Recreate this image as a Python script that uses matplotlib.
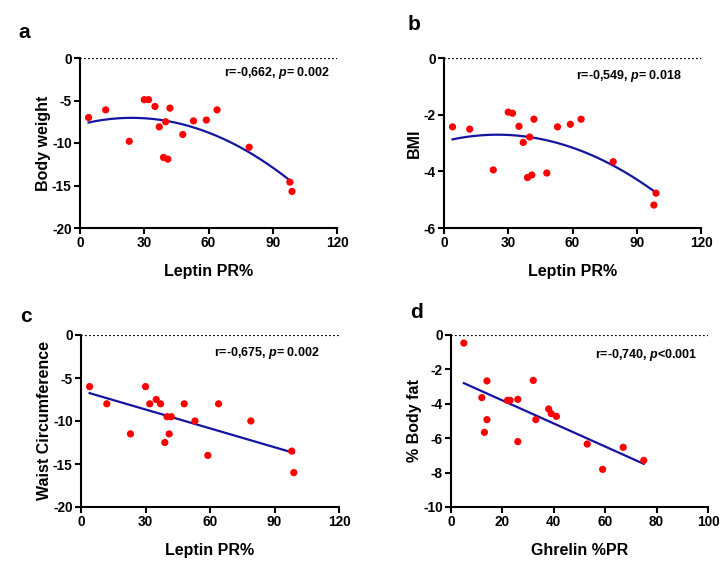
import matplotlib
matplotlib.use("Agg")
import matplotlib.pyplot as plt
import numpy as np

plt.rcParams['font.family'] = ['Liberation Sans', 'DejaVu Sans']
plt.rcParams['font.weight'] = 'bold'
plt.rcParams['axes.unicode_minus'] = False
plt.rcParams['mathtext.fontset'] = 'custom'
plt.rcParams['mathtext.rm'] = 'Liberation Sans:bold'
plt.rcParams['mathtext.it'] = 'Liberation Sans:italic:bold'

# leptin PR% (shared by panels a, b, c)
leptin_pr = [4, 12, 23, 30, 32, 35, 37, 40, 39, 41, 42, 48, 53, 59, 64, 79, 98, 99]
body_weight = [-7.0, -6.1, -9.8, -4.9, -4.9, -5.7, -8.1, -7.5, -11.7, -11.9,
               -5.9, -9.0, -7.4, -7.3, -6.1, -10.5, -14.6, -15.7]
bmi = [-2.43, -2.51, -3.95, -1.91, -1.95, -2.41, -2.98, -2.79, -4.22, -4.13,
       -2.16, -4.06, -2.43, -2.34, -2.16, -3.66, -5.19, -4.77]

leptin_pr_c = [4, 12, 23, 30, 32, 35, 37, 39, 40, 41, 42, 48, 53, 59, 64, 79, 98, 99]
waist = [-6.0, -8.0, -11.5, -6.0, -8.0, -7.5, -8.0, -12.5, -9.5, -11.5,
         -9.5, -8.0, -10.0, -14.0, -8.0, -10.0, -13.5, -16.0]

ghrelin_pr = [5, 12, 14, 13, 14, 22, 23, 26, 26, 32, 33, 38, 39, 41, 53, 59, 67, 75]
body_fat = [-0.47, -3.64, -2.67, -5.66, -4.92, -3.80, -3.80, -3.74, -6.20, -2.64,
            -4.92, -4.30, -4.57, -4.73, -6.34, -7.81, -6.53, -7.29]

W, H = 727, 573
fig = plt.figure(figsize=(W / 100, H / 100), dpi=100)


def make_ax(left, top, right, bottom):
    return fig.add_axes([left / W, 1 - bottom / H, (right - left) / W, (bottom - top) / H])


panels = [
    # letter, x, y, xmax, ymin, yticks, xticks, xlabel, ylabel, fit degree, stat text, text pos, box, letter pos
    ('a', leptin_pr, body_weight, 120, -20, np.arange(-20, 1, 5), np.arange(0, 121, 30),
     'Leptin PR%', 'Body weight', 2, r'r=-0,662, $\mathit{p}$= 0.002', (116.5, -1.75),
     (80, 58, 337, 228), (18, 32)),
    ('b', leptin_pr, bmi, 120, -6, np.arange(-6, 1, 2), np.arange(0, 121, 30),
     'Leptin PR%', 'BMI', 2, r'r=-0,549, $\mathit{p}$= 0.018', (111, -0.64),
     (444, 58, 701, 228), (408, 25)),
    ('c', leptin_pr_c, waist, 120, -20, np.arange(-20, 1, 5), np.arange(0, 121, 30),
     'Leptin PR%', 'Waist Circumference', 1, r'r=-0,675, $\mathit{p}$= 0.002', (111, -2.1),
     (81, 335, 339, 507), (20, 317)),
    ('d', ghrelin_pr, body_fat, 100, -10, np.arange(-10, 1, 2), np.arange(0, 101, 20),
     'Ghrelin %PR', '% Body fat', 1, r'r=-0,740, $\mathit{p}$<0.001', (95.7, -1.16),
     (451, 335, 708, 507), (410, 312)),
]

for letter, x, y, xmax, ymin, yticks, xticks, xlabel, ylabel, deg, txt, tpos, box, lpos in panels:
    ax = make_ax(*box)
    x = np.array(x, dtype=float)
    y = np.array(y, dtype=float)
    ax.axhline(0, color='black', lw=1.6, linestyle=(0, (0.8, 1.0)), zorder=1)
    coef = np.polyfit(x, y, deg)
    xs = np.linspace(x.min(), x.max(), 200)
    ax.plot(xs, np.polyval(coef, xs), color='#1414a0', lw=1.6, zorder=2)
    ax.scatter(x, y, s=27, color='#ff0000', edgecolors='none', zorder=3, clip_on=False)
    ax.set_xlim(0, xmax)
    ax.set_ylim(ymin, 0)
    ax.set_xticks(xticks)
    ax.set_yticks(yticks)
    ax.spines['top'].set_visible(False)
    ax.spines['right'].set_visible(False)
    for s in ['left', 'bottom']:
        ax.spines[s].set_linewidth(1.5)
    ax.tick_params(width=1.5, length=4, labelsize=9.8, pad=2)
    ax.set_xlabel(xlabel, fontsize=11.5, fontweight='bold', labelpad=10)
    ax.set_ylabel(ylabel, fontsize=11.5, fontweight='bold', labelpad=1)
    ax.text(tpos[0], tpos[1], txt, fontsize=9, fontweight='bold', ha='right', va='center')
    fig.text(lpos[0] / W, 1 - lpos[1] / H, letter, fontsize=15, fontweight='bold',
             ha='left', va='center')

fig.savefig('out.png', dpi=100)
